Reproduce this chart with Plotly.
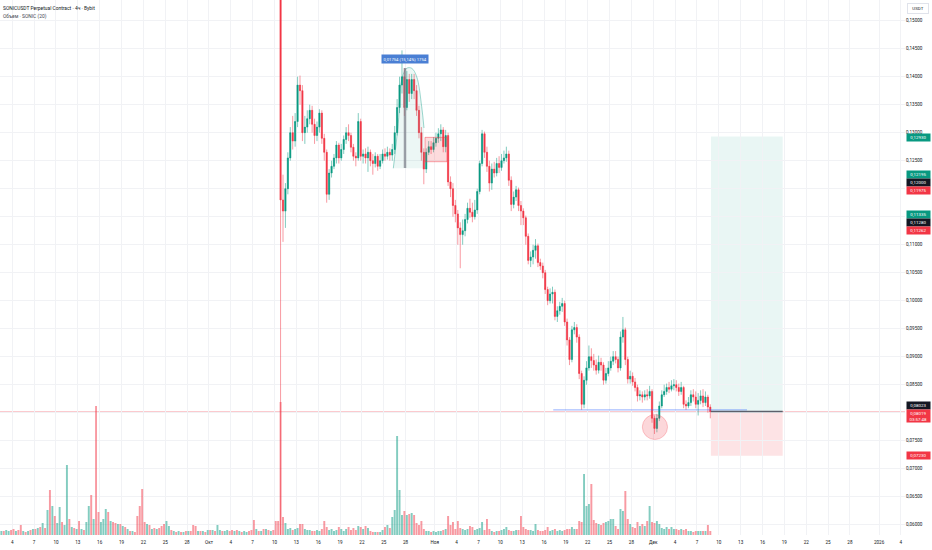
import pandas as pd
import plotly.graph_objects as go

# SONICUSDT perpetual (Bybit), values at 8h resolution
BAR_START = "2025-09-02 04:00"
BAR_HOURS = 8
PRICE_FROM = 116   # crash bar of 10 Oct; earlier candles sit above the visible range
FIRST_OPEN = 0.2120

CLOSE = [
    0.1180, 0.1160, 0.1200, 0.1255, 0.1300, 0.1285, 0.1320, 0.1385, 0.1375, 0.1300,
    0.1310, 0.1325, 0.1340, 0.1315, 0.1295, 0.1310, 0.1335, 0.1290, 0.1265, 0.1190,
    0.1228, 0.1240, 0.1255, 0.1278, 0.1255, 0.1270, 0.1288, 0.1300, 0.1295, 0.1274,
    0.1258, 0.1255, 0.1320, 0.1258, 0.1262, 0.1255, 0.1265, 0.1250, 0.1245, 0.1258,
    0.1240, 0.1250, 0.1262, 0.1258, 0.1265, 0.1260, 0.1270, 0.1300, 0.1345, 0.1385,
    0.1400, 0.1345, 0.1395, 0.1370, 0.1395, 0.1375, 0.1340, 0.1300, 0.1265, 0.1235,
    0.1265, 0.1275, 0.1270, 0.1282, 0.1290, 0.1298, 0.1305, 0.1275, 0.1295, 0.1212,
    0.1200, 0.1170, 0.1155, 0.1130, 0.1118, 0.1125, 0.1145, 0.1165, 0.1158, 0.1150,
    0.1162, 0.1195, 0.1245, 0.1298, 0.1265, 0.1240, 0.1210, 0.1235, 0.1228, 0.1245,
    0.1238, 0.1250, 0.1255, 0.1262, 0.1215, 0.1172, 0.1185, 0.1198, 0.1170, 0.1160,
    0.1148, 0.1115, 0.1072, 0.1078, 0.1090, 0.1098, 0.1068, 0.1062, 0.1050, 0.1020,
    0.1000, 0.1012, 0.1015, 0.0972, 0.0982, 0.0990, 0.0995, 0.0962, 0.0930, 0.0895,
    0.0948, 0.0952, 0.0935, 0.0870, 0.0815, 0.0858, 0.0880, 0.0900, 0.0893, 0.0885,
    0.0876, 0.0890, 0.0885, 0.0858, 0.0870, 0.0880, 0.0892, 0.0900, 0.0895, 0.0880,
    0.0935, 0.0948, 0.0895, 0.0860, 0.0865, 0.0855, 0.0845, 0.0830, 0.0832, 0.0828,
    0.0832, 0.0830, 0.0838, 0.0790, 0.0772, 0.0790, 0.0812, 0.0832, 0.0838, 0.0845,
    0.0842, 0.0848, 0.0850, 0.0845, 0.0838, 0.0845, 0.0815, 0.0812, 0.0818, 0.0832,
    0.0828, 0.0815, 0.0822, 0.0830, 0.0818, 0.0828, 0.0810, 0.08019,
]
HIGH = [
    0.2140, 0.1225, 0.1210, 0.1265, 0.1310, 0.1330, 0.1335, 0.1400, 0.1402, 0.1385,
    0.1330, 0.1340, 0.1350, 0.1348, 0.1325, 0.1320, 0.1342, 0.1340, 0.1298, 0.1270,
    0.1235, 0.1250, 0.1262, 0.1285, 0.1282, 0.1280, 0.1295, 0.1310, 0.1315, 0.1300,
    0.1280, 0.1265, 0.1335, 0.1325, 0.1270, 0.1272, 0.1275, 0.1270, 0.1262, 0.1265,
    0.1262, 0.1262, 0.1270, 0.1272, 0.1275, 0.1272, 0.1280, 0.1312, 0.1360, 0.1400,
    0.1447, 0.1415, 0.1410, 0.1405, 0.1405, 0.1405, 0.1385, 0.1348, 0.1310, 0.1272,
    0.1272, 0.1285, 0.1285, 0.1292, 0.1300, 0.1308, 0.1315, 0.1310, 0.1305, 0.1300,
    0.1222, 0.1210, 0.1180, 0.1162, 0.1140, 0.1145, 0.1155, 0.1175, 0.1182, 0.1175,
    0.1180, 0.1200, 0.1250, 0.1305, 0.1302, 0.1275, 0.1250, 0.1245, 0.1248, 0.1255,
    0.1258, 0.1262, 0.1268, 0.1275, 0.1268, 0.1222, 0.1195, 0.1205, 0.1202, 0.1178,
    0.1165, 0.1152, 0.1120, 0.1088, 0.1100, 0.1110, 0.1102, 0.1075, 0.1068, 0.1055,
    0.1025, 0.1022, 0.1025, 0.1020, 0.0990, 0.0998, 0.1005, 0.1000, 0.0968, 0.0935,
    0.0955, 0.0962, 0.0958, 0.0940, 0.0875, 0.0865, 0.0892, 0.0920, 0.0915, 0.0905,
    0.0895, 0.0902, 0.0898, 0.0890, 0.0880, 0.0892, 0.0900, 0.0910, 0.0910, 0.0900,
    0.0945, 0.0971, 0.0952, 0.0900, 0.0875, 0.0872, 0.0862, 0.0850, 0.0840, 0.0838,
    0.0840, 0.0842, 0.0848, 0.0842, 0.0795, 0.0798, 0.0820, 0.0840, 0.0850, 0.0852,
    0.0855, 0.0858, 0.0860, 0.0858, 0.0852, 0.0855, 0.0848, 0.0822, 0.0828, 0.0840,
    0.0842, 0.0838, 0.0835, 0.0840, 0.0842, 0.0838, 0.0832, 0.0815,
]
LOW = [
    0.0500, 0.1105, 0.1130, 0.1190, 0.1250, 0.1270, 0.1275, 0.1310, 0.1350, 0.1285,
    0.1280, 0.1300, 0.1315, 0.1300, 0.1280, 0.1285, 0.1300, 0.1280, 0.1250, 0.1175,
    0.1180, 0.1220, 0.1235, 0.1245, 0.1245, 0.1250, 0.1262, 0.1280, 0.1285, 0.1265,
    0.1250, 0.1240, 0.1250, 0.1250, 0.1245, 0.1245, 0.1230, 0.1240, 0.1225, 0.1238,
    0.1232, 0.1235, 0.1245, 0.1250, 0.1252, 0.1250, 0.1250, 0.1262, 0.1295, 0.1335,
    0.1370, 0.1330, 0.1340, 0.1355, 0.1360, 0.1360, 0.1330, 0.1290, 0.1250, 0.1208,
    0.1228, 0.1260, 0.1262, 0.1265, 0.1275, 0.1282, 0.1285, 0.1265, 0.1265, 0.1205,
    0.1185, 0.1150, 0.1140, 0.1100, 0.1058, 0.1100, 0.1115, 0.1138, 0.1148, 0.1140,
    0.1145, 0.1155, 0.1190, 0.1240, 0.1255, 0.1230, 0.1195, 0.1198, 0.1220, 0.1222,
    0.1228, 0.1232, 0.1245, 0.1248, 0.1205, 0.1160, 0.1165, 0.1178, 0.1160, 0.1135,
    0.1135, 0.1100, 0.1065, 0.1060, 0.1065, 0.1075, 0.1060, 0.1055, 0.1040, 0.1012,
    0.0992, 0.0995, 0.0995, 0.0965, 0.0962, 0.0975, 0.0980, 0.0955, 0.0920, 0.0885,
    0.0890, 0.0940, 0.0925, 0.0860, 0.0805, 0.0808, 0.0850, 0.0875, 0.0880, 0.0875,
    0.0868, 0.0870, 0.0875, 0.0850, 0.0852, 0.0865, 0.0875, 0.0885, 0.0888, 0.0872,
    0.0875, 0.0925, 0.0885, 0.0852, 0.0852, 0.0848, 0.0838, 0.0820, 0.0822, 0.0818,
    0.0822, 0.0822, 0.0825, 0.0782, 0.0762, 0.0765, 0.0785, 0.0808, 0.0828, 0.0832,
    0.0835, 0.0838, 0.0840, 0.0838, 0.0830, 0.0832, 0.0808, 0.0805, 0.0808, 0.0812,
    0.0820, 0.0808, 0.0795, 0.0815, 0.0810, 0.0812, 0.0800, 0.0790,
]

# volume per bar (relative units, 1 unit ~ 1 px of the pane)
VOLUME = [
    12, 4, 4, 5, 4, 5, 6, 4, 5, 10,
    4, 3, 4, 5, 6, 6, 7, 8, 12, 7,
    25, 45, 29, 19, 12, 28, 13, 10, 70, 16,
    8, 7, 6, 14, 6, 5, 13, 29, 40, 16,
    129, 23, 13, 16, 26, 23, 14, 13, 12, 11,
    11, 9, 8, 6, 4, 4, 3, 19, 29, 46,
    13, 11, 10, 6, 7, 6, 7, 9, 11, 14,
    9, 5, 4, 3, 4, 3, 3, 4, 4, 4,
    10, 9, 4, 4, 4, 3, 5, 5, 5, 4,
    10, 5, 4, 4, 5, 4, 5, 4, 5, 4,
    3, 4, 3, 4, 5, 15, 6, 4, 4, 6,
    6, 5, 4, 5, 14, 14, 133, 18, 12, 6,
    7, 5, 6, 7, 11, 11, 6, 5, 5, 4,
    4, 5, 4, 6, 14, 8, 5, 6, 4, 5,
    8, 6, 4, 6, 8, 5, 7, 5, 9, 8,
    6, 9, 7, 4, 3, 3, 3, 3, 5, 8,
    10, 7, 18, 25, 99, 45, 20, 24, 20, 21,
    22, 20, 12, 10, 14, 6, 4, 4, 3, 4,
    3, 4, 4, 5, 6, 19, 10, 13, 6, 14,
    7, 6, 5, 6, 9, 8, 5, 6, 7, 13,
    5, 16, 6, 4, 3, 4, 4, 5, 6, 8,
    5, 4, 4, 5, 5, 19, 8, 6, 5, 5,
    4, 11, 5, 4, 4, 5, 8, 4, 5, 6,
    4, 5, 4, 5, 6, 6, 8, 6, 6, 14,
    13, 61, 29, 31, 51, 15, 12, 11, 10, 12,
    13, 14, 16, 16, 9, 6, 26, 24, 44, 16,
    11, 8, 7, 13, 9, 11, 9, 14, 29, 13,
    12, 14, 11, 7, 6, 8, 6, 8, 6, 6,
    5, 6, 5, 6, 4, 4, 3, 4, 4, 4,
    4, 4, 10, 4,
]
# bar direction before the visible candles (g = up, r = down)
VOL_DIR_EARLY = (
    "rgrggrrgrr" "grgrgrgrgr" "grgrggrggr" "grgrgrggrg" "rrgggrgrrg"
    "rgrgrgrrrr" "rgrgrgrrrg" "grgrgrgrgr" "rrgrgrgrgr" "ggrggrrgrg"
    "rggrrrgrgr" "grgrrr"
)

CURRENT_PRICE = 0.08019
TIMER = "03:57:48"

# long position tool
POS_START, POS_END = "2025-12-08 22:00", "2025-12-18 18:30"
POS_ENTRY, POS_TARGET, POS_STOP = 0.08023, 0.12930, 0.07230

# price tags on the right scale
TAG_LEVELS = [0.12930, 0.12195, 0.12000, 0.11975, 0.11335, 0.11280, 0.11262, 0.08023, 0.07230]
TAG_KINDS = ["up", "up", "flat", "down", "up", "flat", "down", "flat", "down"]
TAG_SHIFTS = [-1, 2.8, 6, -0.6, 11, 6.3, -0.7, 6.4, 0.8]
# scale labels that sit under the tags
COVERED_TICKS = [0.08, 0.115, 0.12]

# drawings
ARC_TIMES = ["2025-10-26 07:30", "2025-10-26 23:50", "2025-10-27 11:00", "2025-10-28 03:30",
             "2025-10-28 20:00", "2025-10-29 12:30", "2025-10-30 05:00", "2025-10-30 12:30"]
ARC_PRICES = [0.12364, 0.13168, 0.13941, 0.14150, 0.14150, 0.14000, 0.13464, 0.13084]
MEASURE_TIME = "2025-10-27 22:00"
MEASURE_LOW, MEASURE_HIGH = 0.12370, 0.14155
MEASURE_TEXT = "0,01754 (15,14%) 1754"
RED_BOX = ("2025-10-30 16:00", "2025-11-02 16:20", 0.12482, 0.12917)
CIRCLE = ("2025-11-29 12:00", "2025-12-02 23:00", 0.07521, 0.07967)
BLUE_RAY = ("2025-11-17 06:30", "2025-12-13 21:00", 0.0805)

FONT = "Roboto"
UP, DOWN, INK = "#089981", "#F23645", "#131722"
GRID = "#f1f2f5"


def fmt(v):
    return f"{v:.5f}".replace(".", ",")


times = pd.date_range(BAR_START, periods=len(VOLUME), freq=f"{BAR_HOURS}h")
t_price = times[PRICE_FROM:]
opens = [FIRST_OPEN] + CLOSE[:-1]
highs = [max(h, o, c) for h, o, c in zip(HIGH, opens, CLOSE)]
lows = [min(lo, o, c) for lo, o, c in zip(LOW, opens, CLOSE)]
body_hi = [max(o, c) for o, c in zip(opens, CLOSE)]
body_lo = [min(o, c) for o, c in zip(opens, CLOSE)]
up = [c >= o for o, c in zip(opens, CLOSE)]
vol_up = [d == "g" for d in VOL_DIR_EARLY] + up
vol_colors = ["rgba(8,153,129,0.5)" if u else "rgba(242,54,69,0.5)" for u in vol_up]

fig = go.Figure()

fig.add_trace(go.Bar(
    x=times, y=VOLUME, yaxis="y2",
    width=BAR_HOURS * 3600 * 1000 * 0.8,
    marker=dict(color=vol_colors, line_width=0),
    hoverinfo="skip", showlegend=False,
))

# wicks (thin, lighter) then solid bodies on top
fig.add_trace(go.Candlestick(
    x=t_price, open=opens, high=highs, low=lows, close=CLOSE,
    increasing=dict(line=dict(color="rgba(8,153,129,0.5)", width=1), fillcolor="rgba(8,153,129,0.5)"),
    decreasing=dict(line=dict(color="rgba(242,54,69,0.5)", width=1), fillcolor="rgba(242,54,69,0.5)"),
    hoverinfo="skip", showlegend=False,
))
fig.add_trace(go.Candlestick(
    x=t_price, open=opens, high=body_hi, low=body_lo, close=CLOSE,
    increasing=dict(line=dict(color=UP, width=0), fillcolor=UP),
    decreasing=dict(line=dict(color=DOWN, width=0), fillcolor=DOWN),
    hoverinfo="skip", showlegend=False,
))

# arc drawing over the late-October top
fig.add_trace(go.Scatter(
    x=ARC_TIMES + [ARC_TIMES[-1], ARC_TIMES[0]],
    y=ARC_PRICES + [ARC_PRICES[0], ARC_PRICES[0]],
    mode="lines", line=dict(width=0), fill="toself",
    fillcolor="rgba(8,153,129,0.08)", hoverinfo="skip", showlegend=False,
))
fig.add_trace(go.Scatter(
    x=ARC_TIMES, y=ARC_PRICES, mode="lines",
    line=dict(color="rgba(8,153,129,0.4)", width=1, shape="spline"),
    hoverinfo="skip", showlegend=False,
))
fig.add_trace(go.Scatter(
    x=[MEASURE_TIME, MEASURE_TIME], y=[MEASURE_LOW, MEASURE_HIGH], mode="lines",
    line=dict(color="rgba(120,123,134,0.7)", width=2.5),
    hoverinfo="skip", showlegend=False,
))

# position tool
fig.add_shape(type="rect", x0=POS_START, x1=POS_END, y0=POS_ENTRY, y1=POS_TARGET,
              fillcolor="rgba(8,153,129,0.09)", line_width=0, layer="below")
fig.add_shape(type="rect", x0=POS_START, x1=POS_END, y0=POS_STOP, y1=POS_ENTRY,
              fillcolor="rgba(242,54,69,0.14)", line_width=0, layer="below")

fig.add_shape(type="line", xref="paper", x0=0, x1=1, y0=CURRENT_PRICE, y1=CURRENT_PRICE,
              line=dict(color="rgba(242,54,69,0.3)", width=1), layer="below")
fig.add_shape(type="line", x0=BLUE_RAY[0], x1=BLUE_RAY[1], y0=BLUE_RAY[2], y1=BLUE_RAY[2],
              line=dict(color="rgba(41,98,255,0.5)", width=1))
fig.add_shape(type="line", x0=POS_START, x1=POS_END, y0=POS_ENTRY, y1=POS_ENTRY,
              line=dict(color="#5d606b", width=1.5))

fig.add_shape(type="rect", x0=RED_BOX[0], x1=RED_BOX[1], y0=RED_BOX[2], y1=RED_BOX[3],
              fillcolor="rgba(242,54,69,0.18)", line=dict(color="rgba(242,54,69,0.45)", width=1))
fig.add_shape(type="circle", x0=CIRCLE[0], x1=CIRCLE[1], y0=CIRCLE[2], y1=CIRCLE[3],
              fillcolor="rgba(242,54,69,0.2)", line=dict(color="rgba(242,54,69,0.25)", width=1))

fig.add_annotation(x=MEASURE_TIME, y=MEASURE_HIGH, yshift=9, text=MEASURE_TEXT, showarrow=False,
                   bgcolor="#4a7fd4", borderpad=1.5, font=dict(family=FONT, size=4.2, color="white"))

# header
fig.add_annotation(x=0, y=1, xref="paper", yref="paper", xanchor="left", yanchor="top",
                   xshift=1, yshift=-3, showarrow=False,
                   text="SONICUSDT Perpetual Contract · 4ч · Bybit",
                   font=dict(family=FONT, size=4.9, color=INK))
fig.add_annotation(x=0, y=1, xref="paper", yref="paper", xanchor="left", yanchor="top",
                   xshift=1, yshift=-11, showarrow=False,
                   text="Объем · SONIC (20)",
                   font=dict(family=FONT, size=4.9, color="#434651"))

# right scale tags
tag_colors = {"up": UP, "down": DOWN, "flat": INK}
for level, kind, shift in zip(TAG_LEVELS, TAG_KINDS, TAG_SHIFTS):
    fig.add_annotation(x=1, xref="paper", y=level, yref="y", xanchor="left", yanchor="middle",
                       xshift=1, yshift=shift, text=fmt(level), showarrow=False,
                       bgcolor=tag_colors[kind], borderpad=0.8, width=21,
                       font=dict(family=FONT, size=4.4, color="white"))
fig.add_annotation(x=1, xref="paper", y=CURRENT_PRICE, yref="y", xanchor="left", yanchor="middle",
                   xshift=1, yshift=-4.6, text=fmt(CURRENT_PRICE) + "<br>" + TIMER, showarrow=False,
                   bgcolor=DOWN, borderpad=0.8, width=21,
                   font=dict(family=FONT, size=4.4, color="white"))
fig.add_annotation(x=1, y=1, xref="paper", yref="paper", xanchor="left", yanchor="top",
                   xshift=2, yshift=-3, text="USDT", showarrow=False,
                   bgcolor="white", bordercolor="#e0e3eb", borderwidth=1, borderpad=2, width=16,
                   font=dict(family=FONT, size=4.4, color=INK))

# time scale labels
tick_vals, tick_text = [], []
for month, name in [("2025-09", None), ("2025-10", "Окт"), ("2025-11", "Ноя"), ("2025-12", "Дек")]:
    if name:
        tick_vals.append(f"{month}-01")
        tick_text.append(name)
    for day in range(4, 29, 3):
        tick_vals.append(f"{month}-{day:02d}")
        tick_text.append(str(day))
tick_vals += ["2026-01-01", "2026-01-04"]
tick_text += ["2026", "4"]

price_ticks = [round(0.06 + 0.005 * k, 3) for k in range(19)]
price_text = ["" if v in COVERED_TICKS else fmt(v) for v in price_ticks]

fig.update_layout(
    width=932,
    height=550,
    margin=dict(l=0, r=27, t=0, b=15),
    paper_bgcolor="white",
    plot_bgcolor="white",
    font=dict(family=FONT, size=4.6, color=INK),
    showlegend=False,
    hovermode=False,
    boxgap=0.25,
    xaxis=dict(
        type="date",
        range=["2025-09-02 07:30", "2026-01-04 13:30"],
        tickvals=tick_vals,
        ticktext=tick_text,
        showgrid=True,
        gridcolor=GRID,
        zeroline=False,
        showline=False,
        ticks="",
        ticklabelstandoff=3,
        rangeslider=dict(visible=False),
        tickfont=dict(size=4.6, color=INK),
    ),
    yaxis=dict(
        side="right",
        range=[0.058161, 0.153696],
        tickvals=price_ticks,
        ticktext=price_text,
        showgrid=True,
        gridcolor=GRID,
        zeroline=False,
        showline=False,
        ticks="",
        tickfont=dict(size=4.6, color=INK),
    ),
    yaxis2=dict(
        overlaying="y",
        range=[0, 535],
        visible=False,
    ),
)

fig.write_html(
    "out.html",
    config={"displayModeBar": False},
    post_script="document.body.style.margin='0';document.body.style.overflow='hidden';",
)
